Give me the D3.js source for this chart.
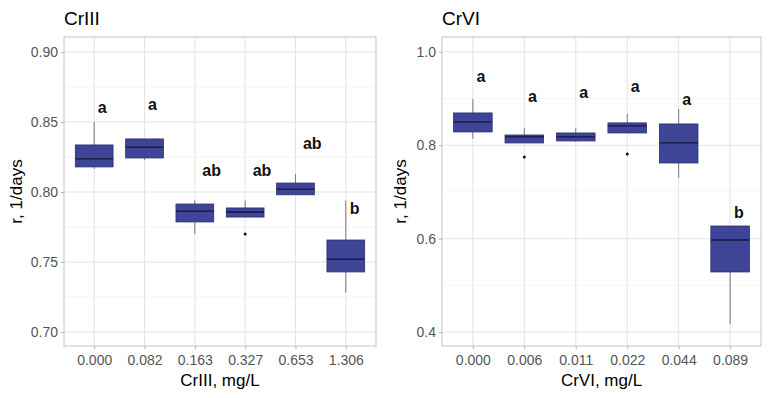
<!DOCTYPE html>
<meta charset="utf-8" />
<style>
  body { margin: 0; background: #fff; }
  text { font-family: "Liberation Sans", Arial, sans-serif; }
</style>
<body>
<script src="https://d3js.org/d3.v7.min.js"></script>
<script>
  // CrIII panel
  var cr3Cats = ["0.000", "0.082", "0.163", "0.327", "0.653", "1.306"];
  var cr3Low = [0.8164, 0.8229, 0.770, 0.7821, 0.798, 0.728];
  var cr3Q1 = [0.8179, 0.8243, 0.7786, 0.7821, 0.798, 0.7429];
  var cr3Med = [0.8236, 0.8321, 0.7864, 0.7857, 0.8021, 0.7521];
  var cr3Q3 = [0.8336, 0.8379, 0.7914, 0.7886, 0.8064, 0.7657];
  var cr3High = [0.850, 0.8379, 0.794, 0.794, 0.8129, 0.794];
  var cr3Out = [[], [], [], [0.770], [], []];
  var cr3Letters = ["a", "a", "ab", "ab", "ab", "b"];
  var cr3LetterY = [0.8564, 0.8586, 0.8114, 0.8114, 0.8307, 0.7843];
  var cr3Ticks = [0.70, 0.75, 0.80, 0.85, 0.90];

  // CrVI panel
  var cr6Cats = ["0.000", "0.006", "0.011", "0.022", "0.044", "0.089"];
  var cr6Low = [0.8136, 0.805, 0.807, 0.8264, 0.730, 0.4171];
  var cr6Q1 = [0.8286, 0.805, 0.8093, 0.8264, 0.7621, 0.5286];
  var cr6Med = [0.850, 0.8179, 0.8179, 0.8414, 0.805, 0.5971];
  var cr6Q3 = [0.8693, 0.8221, 0.8264, 0.848, 0.8457, 0.6271];
  var cr6High = [0.8993, 0.837, 0.837, 0.867, 0.8779, 0.6271];
  var cr6Out = [[], [0.775], [], [0.7814], [], []];
  var cr6Letters = ["a", "a", "a", "a", "a", "b"];
  var cr6LetterY = [0.9357, 0.8929, 0.9014, 0.9143, 0.8864, 0.6443];
  var cr6Ticks = [0.4, 0.6, 0.8, 1.0];

  var svg = d3.select("body").append("svg")
    .attr("width", 770)
    .attr("height", 398);

  function panel(opt) {
    var g = svg.append("g");
    var x = d3.scalePoint().domain(opt.cats).range([opt.left, opt.right]).padding(0.6);
    var y = d3.scaleLinear().domain(opt.yDomain).range([opt.bottom, opt.top]);
    var step = x.step();
    var bw = step * 0.75;

    // gridlines (minor then major)
    var minor = [];
    for (var i = 0; i < opt.ticks.length - 1; i++) minor.push((opt.ticks[i] + opt.ticks[i + 1]) / 2);
    minor.push(opt.ticks[opt.ticks.length - 1] + (opt.ticks[1] - opt.ticks[0]) / 2);
    minor.push(opt.ticks[0] - (opt.ticks[1] - opt.ticks[0]) / 2);
    g.selectAll(".minor").data(minor.filter(function(v) { return y(v) > opt.top && y(v) < opt.bottom; }))
      .enter().append("line")
      .attr("x1", opt.left).attr("x2", opt.right)
      .attr("y1", function(d) { return y(d); }).attr("y2", function(d) { return y(d); })
      .attr("stroke", "#f1f1f1").attr("stroke-width", 0.8);
    g.selectAll(".major").data(opt.ticks).enter().append("line")
      .attr("x1", opt.left).attr("x2", opt.right)
      .attr("y1", function(d) { return y(d); }).attr("y2", function(d) { return y(d); })
      .attr("stroke", "#e4e4e4").attr("stroke-width", 1);
    g.selectAll(".vgrid").data(opt.cats).enter().append("line")
      .attr("x1", function(d) { return x(d); }).attr("x2", function(d) { return x(d); })
      .attr("y1", opt.top).attr("y2", opt.bottom)
      .attr("stroke", "#e4e4e4").attr("stroke-width", 1);

    // boxes
    var data = opt.cats.map(function(c, i) {
      return { c: c, lo: opt.low[i], q1: opt.q1[i], med: opt.med[i], q3: opt.q3[i], hi: opt.high[i],
        out: opt.out[i], letter: opt.letters[i], ly: opt.letterY[i] };
    });
    var box = g.selectAll(".box").data(data).enter().append("g");
    box.append("line")
      .attr("x1", function(d) { return x(d.c); }).attr("x2", function(d) { return x(d.c); })
      .attr("y1", function(d) { return y(d.hi); }).attr("y2", function(d) { return y(d.q3); })
      .attr("stroke", "#7a7a7a");
    box.append("line")
      .attr("x1", function(d) { return x(d.c); }).attr("x2", function(d) { return x(d.c); })
      .attr("y1", function(d) { return y(d.q1); }).attr("y2", function(d) { return y(d.lo); })
      .attr("stroke", "#7a7a7a");
    box.append("rect")
      .attr("x", function(d) { return x(d.c) - bw / 2; })
      .attr("y", function(d) { return y(d.q3); })
      .attr("width", bw)
      .attr("height", function(d) { return y(d.q1) - y(d.q3); })
      .attr("fill", "#3f4596")
      .attr("stroke", "#2b2e6e").attr("stroke-width", 0.8);
    box.append("line")
      .attr("x1", function(d) { return x(d.c) - bw / 2; }).attr("x2", function(d) { return x(d.c) + bw / 2; })
      .attr("y1", function(d) { return y(d.med); }).attr("y2", function(d) { return y(d.med); })
      .attr("stroke", "#15163a").attr("stroke-width", 1.3);
    box.selectAll("circle").data(function(d) { return d.out.map(function(v) { return { c: d.c, v: v }; }); })
      .enter().append("circle")
      .attr("cx", function(d) { return x(d.c); }).attr("cy", function(d) { return y(d.v); })
      .attr("r", 1.5).attr("fill", "#111");
    box.append("text")
      .attr("y", function(d) { return y(d.ly); })
      .attr("font-size", 16).attr("font-weight", "bold").attr("fill", "#111")
      .text(function(d) { return d.letter; })
      .attr("x", function(d) { return x(d.c) + 0.4 * this.getComputedTextLength(); });

    // panel border
    g.append("rect")
      .attr("x", opt.left).attr("y", opt.top)
      .attr("width", opt.right - opt.left).attr("height", opt.bottom - opt.top)
      .attr("fill", "none").attr("stroke", "#c4c4c4").attr("stroke-width", 1);

    // y axis
    var yAxis = g.append("g").attr("transform", "translate(" + opt.left + ",0)")
      .call(d3.axisLeft(y).tickValues(opt.ticks).tickFormat(d3.format(opt.fmt)).tickSize(3).tickPadding(3));
    yAxis.select(".domain").remove();
    yAxis.selectAll("line").attr("stroke", "#b3b3b3");
    yAxis.selectAll("text").attr("font-size", 14).attr("fill", "#555")
      .attr("font-family", "Liberation Sans, Arial, sans-serif");

    // x axis
    var xAxis = g.append("g").attr("transform", "translate(0," + opt.bottom + ")")
      .call(d3.axisBottom(x).tickSize(3).tickPadding(6));
    xAxis.select(".domain").remove();
    xAxis.selectAll("line").attr("stroke", "#b3b3b3");
    xAxis.selectAll("text").attr("font-size", 14).attr("fill", "#555")
      .attr("font-family", "Liberation Sans, Arial, sans-serif");

    // titles
    g.append("text").attr("x", opt.left).attr("y", 25)
      .attr("font-size", 19).attr("fill", "#000").text(opt.title);
    g.append("text").attr("x", (opt.left + opt.right) / 2).attr("y", 386)
      .attr("text-anchor", "middle").attr("font-size", 17).attr("fill", "#000").text(opt.xTitle);
    g.append("text")
      .attr("transform", "translate(" + opt.yTitleX + "," + (opt.top + opt.bottom) / 2 + ") rotate(-90)")
      .attr("text-anchor", "middle").attr("font-size", 17).attr("fill", "#000").text("r, 1/days");
  }

  panel({
    cats: cr3Cats, low: cr3Low, q1: cr3Q1, med: cr3Med, q3: cr3Q3, high: cr3High, out: cr3Out,
    letters: cr3Letters, letterY: cr3LetterY, ticks: cr3Ticks, fmt: ".2f",
    yDomain: [0.69, 0.9107], left: 64, right: 376, top: 37, bottom: 346,
    title: "CrIII", xTitle: "CrIII, mg/L", yTitleX: 22
  });
  panel({
    cats: cr6Cats, low: cr6Low, q1: cr6Q1, med: cr6Med, q3: cr6Q3, high: cr6High, out: cr6Out,
    letters: cr6Letters, letterY: cr6LetterY, ticks: cr6Ticks, fmt: ".1f",
    yDomain: [0.37, 1.032], left: 442, right: 761, top: 37, bottom: 346,
    title: "CrVI", xTitle: "CrVI, mg/L", yTitleX: 406
  });
</script>
</body>
